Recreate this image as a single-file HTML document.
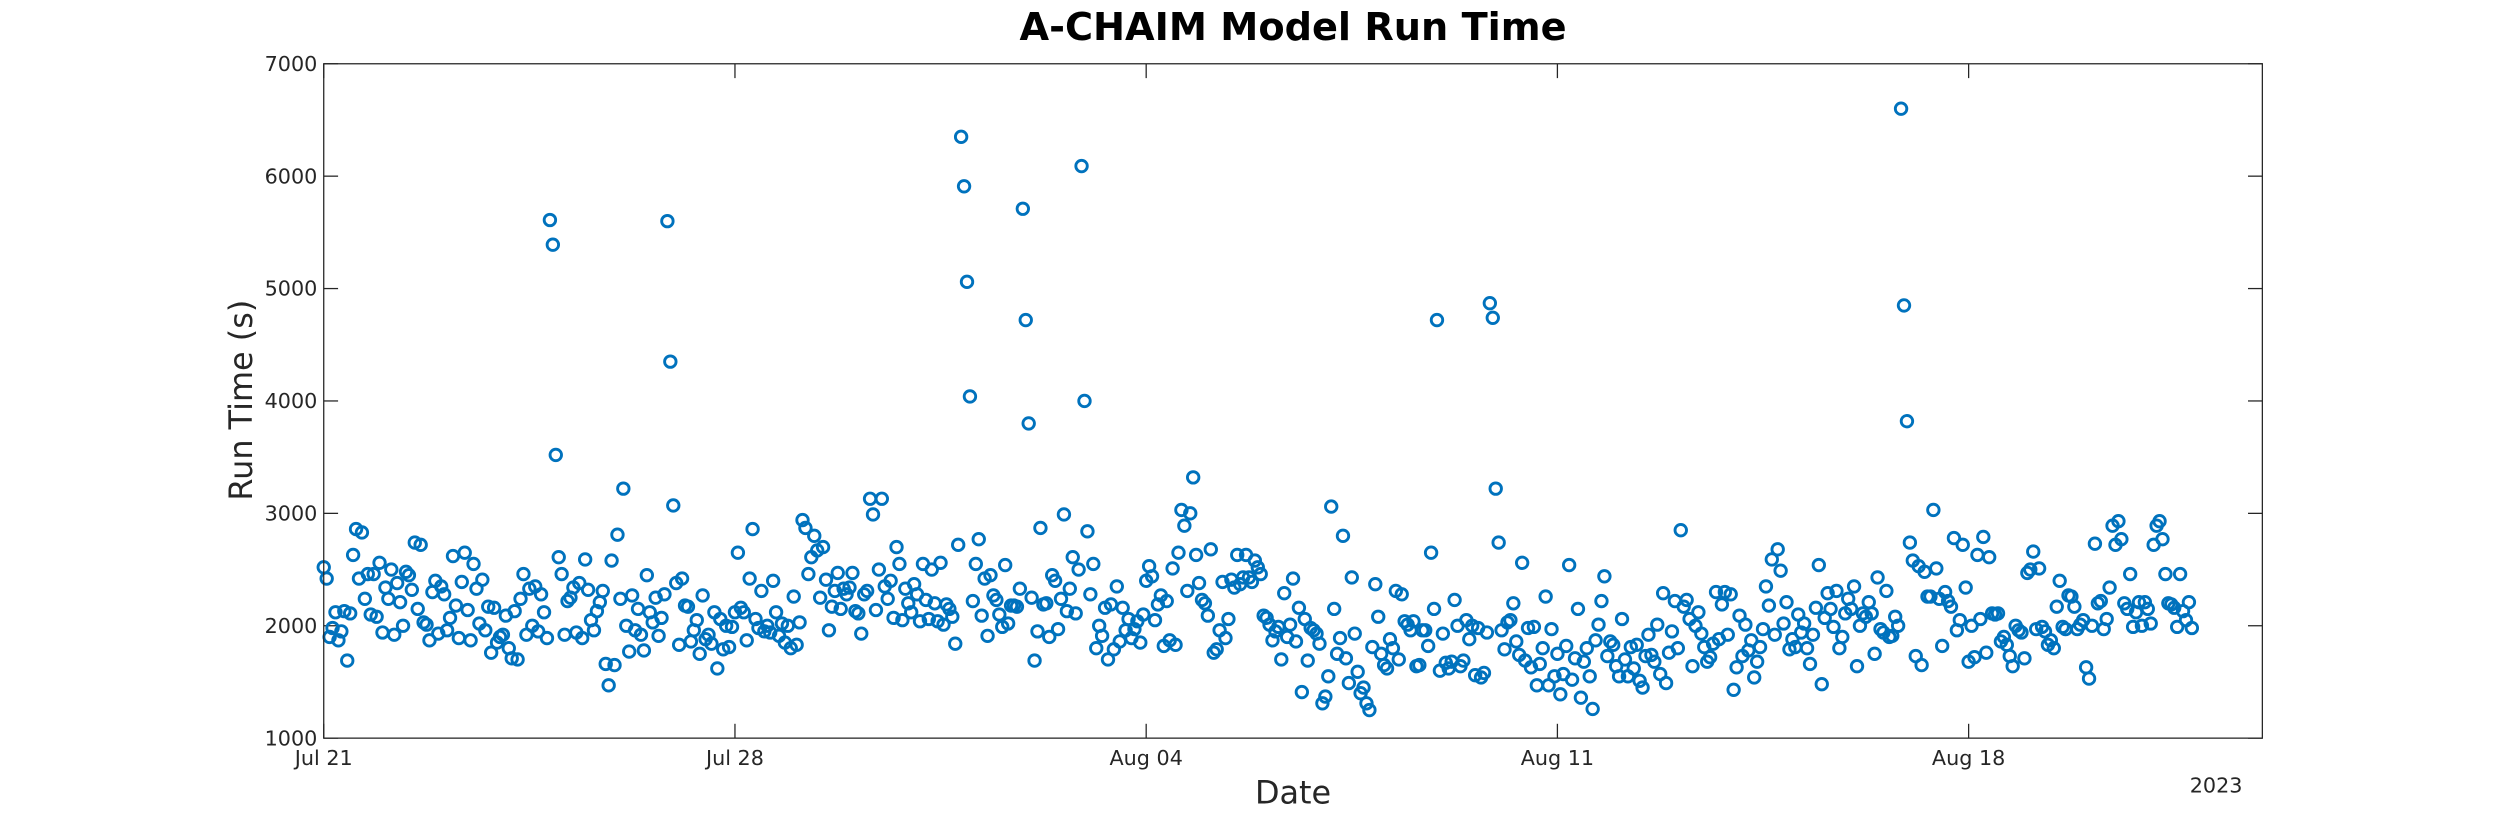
<!DOCTYPE html>
<html><head><meta charset="utf-8"><style>
html,body{margin:0;padding:0;background:#fff}
svg{display:block}
text{font-family:"DejaVu Sans","Liberation Sans",sans-serif;fill:#262626}
</style></head><body>
<svg id="chart" width="2500" height="833" viewBox="0 0 1568 522.5" xmlns="http://www.w3.org/2000/svg">
<rect width="1568" height="522.5" fill="#fff"/>
<text x="811" y="25" text-anchor="middle" font-size="24" font-weight="bold" style="fill:#000">A-CHAIM Model Run Time</text>
<text transform="translate(158,251) rotate(-90)" text-anchor="middle" font-size="20">Run Time (s)</text>
<text x="811" y="504" text-anchor="middle" font-size="20">Date</text>
<text x="1390" y="497" text-anchor="middle" font-size="13">2023</text>
<g id="ticks"></g>
<g id="points"></g>
<rect x="203" y="40" width="1216" height="423" fill="none" stroke="#262626" stroke-width="0.8"/>
</svg>
<script>
const xTickLabels = ["Jul 21","Jul 28","Aug 04","Aug 11","Aug 18"];
const xTickDays = [0,7,14,21,28];
const yTicks = [1000,2000,3000,4000,5000,6000,7000];
const startDay = 0;
const stepDay = 0.05;
const runTimes = [
2520,2420,1900,1980,2120,1870,1950,2130,1690,2110,2630,2860,2420,2830,2240,2460,2100,2460,2080,2560,
1940,2340,2240,2500,1920,2380,2210,2000,2480,2450,2320,2740,2150,2720,2030,2010,1870,2300,2400,1930,
2350,2280,1960,2070,2620,2180,1890,2390,2650,2140,1870,2550,2330,2020,2410,1960,2170,1760,2160,1850,
1900,1920,2090,1800,1710,2130,1700,2240,2460,1920,2330,2000,2350,1950,2280,2120,1890,5610,5390,3520,
2610,2460,1920,2220,2250,2340,1940,2380,1890,2590,2320,2050,1960,2130,2210,2310,1660,1470,2580,1650,
2810,2240,3220,2000,1770,2270,1960,2150,1920,1780,2450,2120,2030,2250,1910,2070,2280,5600,4350,3070,
2380,1830,2420,2180,2170,1860,1960,2050,1750,2270,1880,1920,1840,2120,1620,2060,1790,2000,1810,1990,
2120,2650,2160,2120,1870,2420,2860,2060,1980,2310,1950,2000,1940,2400,2120,1910,2020,1850,2000,1800,
2260,1830,2030,2940,2870,2460,2610,2800,2670,2250,2700,2410,1960,2170,2310,2470,2150,2330,2280,2340,
2470,2130,2110,1930,2280,2310,3130,2990,2140,2500,3130,2350,2240,2400,2070,2700,2550,2050,2330,2200,
2120,2370,2280,2040,2550,2230,2060,2500,2200,2040,2560,2010,2190,2150,2080,1840,2720,6350,5910,5060,
4040,2220,2550,2770,2090,2420,1910,2450,2270,2230,2100,1990,2540,2020,2180,2180,2170,2330,5710,4720,
3800,2250,1690,1950,2870,2190,2200,1900,2450,2400,1970,2240,2990,2130,2330,2610,2110,2500,6090,4000,
2840,2280,2550,1800,2000,1910,2160,1700,2190,1790,2350,1860,2160,1960,2060,1890,1970,2040,1850,2100,
2400,2530,2440,2050,2190,2270,1820,2220,1870,2510,1830,2650,3030,2890,2310,3000,3320,2630,2380,2230,
2200,2090,2680,1760,1790,1960,2390,1890,2060,2410,2340,2630,2370,2430,2630,2430,2390,2580,2520,2460,
2090,2070,2010,1870,1950,1990,1700,2290,1900,2010,2420,1860,2160,1410,2060,1690,1980,1960,1930,1840,
1310,1370,1550,3060,2150,1750,1890,2800,1710,1490,2430,1930,1590,1400,1450,1310,1250,1810,2370,2080,
1750,1650,1620,1880,1800,2310,1700,2280,2040,2010,1960,2040,1640,1650,1960,1960,1820,2650,2150,4720,
1600,1930,1670,1620,1680,2230,2000,1640,1690,2050,1880,2000,1560,1980,1540,1580,1940,4870,4740,3220,
2740,1960,1790,2030,2050,2200,1860,1740,2560,1690,1980,1630,1990,1470,1660,1800,2260,1470,1970,1550,
1750,1390,1570,1820,2540,1520,1710,2150,1360,1680,1800,1550,1260,1870,2010,2220,2440,1730,1860,1830,
1640,1550,2060,1700,1550,1810,1620,1830,1510,1450,1730,1920,1740,1680,2010,1570,2290,1490,1760,1950,
2220,1800,2850,2170,2230,2060,1640,2000,2120,1930,1810,1680,1720,1840,2300,1880,2190,2300,1920,2280,
1430,1630,2090,1730,2010,1780,1870,1540,1680,1810,1970,2350,2180,2590,1920,2680,2490,2020,2210,1790,
1880,1810,2100,1940,2020,1800,1660,1920,2160,2540,1480,2070,2290,2150,1990,2310,1800,1900,2110,2240,
2150,2350,1640,2000,2110,2080,2210,2110,1750,2430,1970,1940,2310,1900,1910,2080,2000,6600,4850,3820,
2740,2580,1730,2530,1650,2480,2260,2260,3030,2510,2240,1820,2300,2220,2170,2780,1960,2050,2720,2340,
1680,2000,1720,2630,2060,2790,1760,2610,2110,2100,2110,1860,1900,1830,1730,1640,2000,1960,1940,1710,
2470,2500,2660,1970,2510,1990,1950,1830,1870,1800,2170,2400,1990,1970,2270,2260,2170,1970,2010,2050,
1630,1530,2000,2730,2200,2220,1970,2060,2340,2890,2720,2930,2770,2200,2150,2460,1990,2120,2210,2000,
2210,2150,2020,2720,2890,2930,2770,2460,2200,2190,2160,1990,2460,2130,2050,2210,1980
];
const X0=203,X1=1419,Y0=463,Y1=40,DAYS=33;
const xScale=d=>X0+(d/DAYS)*(X1-X0);
const yScale=v=>Y0-(v-1000)/6000*(Y0-Y1);
const NS="http://www.w3.org/2000/svg";
const tg=document.getElementById('ticks');
yTicks.forEach(v=>{
  const y=yScale(v);
  [[X0,X0+9],[X1-9,X1]].forEach(p=>{
    const l=document.createElementNS(NS,'line');
    l.setAttribute('x1',p[0]);l.setAttribute('x2',p[1]);l.setAttribute('y1',y);l.setAttribute('y2',y);
    l.setAttribute('stroke','#262626');l.setAttribute('stroke-width','0.8');
    
    
    tg.appendChild(l);
  });
  const t=document.createElementNS(NS,'text');
  t.setAttribute('x',X0-4);t.setAttribute('y',y+4.5);t.setAttribute('text-anchor','end');t.setAttribute('font-size','13');
  t.textContent=v;
  
  
  tg.appendChild(t);
});
xTickDays.forEach((d,i)=>{
  const x=xScale(d);
  [[Y0,Y0-9],[Y1,Y1+9]].forEach(p=>{
    const l=document.createElementNS(NS,'line');
    l.setAttribute('x1',x);l.setAttribute('x2',x);l.setAttribute('y1',p[0]);l.setAttribute('y2',p[1]);
    l.setAttribute('stroke','#262626');l.setAttribute('stroke-width','0.8');
    
    
    tg.appendChild(l);
  });
  const t=document.createElementNS(NS,'text');
  t.setAttribute('x',x);t.setAttribute('y',Y0+17);t.setAttribute('text-anchor','middle');t.setAttribute('font-size','13');
  t.textContent=xTickLabels[i];
  
  
  tg.appendChild(t);
});
const pg=document.getElementById('points');
runTimes.forEach((v,i)=>{
  const c=document.createElementNS(NS,'circle');
  c.setAttribute('cx',xScale(startDay+i*stepDay));
  c.setAttribute('cy',yScale(v));
  c.setAttribute('r','3.6');
  c.setAttribute('fill','none');
  c.setAttribute('stroke','#0072BD');
  c.setAttribute('stroke-width','1.8');
  
  
  pg.appendChild(c);
});
</script>
</body></html>
